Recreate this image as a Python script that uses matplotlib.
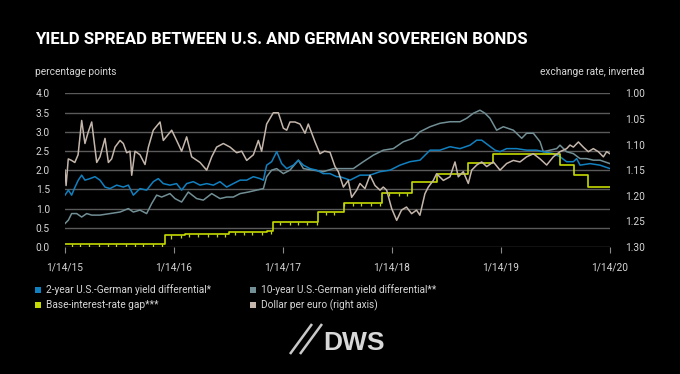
import numpy as np
import matplotlib
matplotlib.use("Agg")
import matplotlib.pyplot as plt
from matplotlib.patches import Rectangle
from matplotlib.lines import Line2D

# ---------------- DATA ----------------
# x values: years since 14 Jan 2015
x_ticks = [0, 1, 2, 3, 4, 5]
x_tick_labels = ["1/14/15", "1/14/16", "1/14/17", "1/14/18", "1/14/19", "1/14/20"]
left_ticks = [0.0, 0.5, 1.0, 1.5, 2.0, 2.5, 3.0, 3.5, 4.0]
right_ticks = [1.00, 1.05, 1.10, 1.15, 1.20, 1.25, 1.30]

two_year_x = [0.000, 0.031, 0.061, 0.092, 0.122, 0.153, 0.183, 0.229, 0.275, 0.321, 0.367, 0.413,
              0.474, 0.535, 0.581, 0.627, 0.688, 0.749, 0.810, 0.856, 0.902, 0.963, 1.024, 1.070,
              1.116, 1.177, 1.239, 1.300, 1.361, 1.422, 1.483, 1.544, 1.606, 1.667, 1.728, 1.789,
              1.820, 1.850, 1.896, 1.942, 1.988, 2.034, 2.095, 2.141, 2.187, 2.248, 2.309, 2.370,
              2.431, 2.492, 2.523, 2.615, 2.706, 2.798, 2.890, 2.982, 3.073, 3.165, 3.257, 3.349,
              3.440, 3.532, 3.624, 3.716, 3.777, 3.823, 3.884, 3.945, 3.991, 4.052, 4.144, 4.235,
              4.327, 4.388, 4.480, 4.541, 4.602, 4.664, 4.694, 4.725, 4.817, 4.908, 5.000]
two_year_y = [1.35, 1.48, 1.35, 1.56, 1.74, 1.87, 1.74, 1.78, 1.83, 1.74, 1.56, 1.52,
              1.61, 1.56, 1.61, 1.35, 1.52, 1.48, 1.70, 1.78, 1.65, 1.61, 1.65, 1.48,
              1.65, 1.70, 1.61, 1.65, 1.61, 1.70, 1.56, 1.65, 1.74, 1.74, 1.83, 1.78,
              1.74, 2.13, 2.22, 2.48, 2.17, 2.04, 2.13, 2.26, 2.13, 2.04, 2.00, 1.91,
              1.91, 1.83, 1.83, 1.74, 1.87, 1.87, 1.96, 2.00, 2.13, 2.22, 2.26, 2.52,
              2.52, 2.61, 2.56, 2.65, 2.78, 2.78, 2.65, 2.52, 2.48, 2.56, 2.56, 2.52,
              2.52, 2.48, 2.43, 2.35, 2.22, 2.22, 2.30, 2.13, 2.17, 2.13, 2.04]

ten_year_x = [0.000, 0.031, 0.061, 0.107, 0.153, 0.199, 0.245, 0.321, 0.413, 0.505, 0.581, 0.627,
              0.688, 0.749, 0.795, 0.841, 0.887, 0.963, 1.009, 1.070, 1.131, 1.208, 1.269, 1.346,
              1.422, 1.483, 1.544, 1.606, 1.682, 1.758, 1.820, 1.850, 1.896, 1.942, 2.003, 2.064,
              2.141, 2.187, 2.278, 2.370, 2.462, 2.523, 2.645, 2.737, 2.829, 2.920, 3.012, 3.104,
              3.196, 3.257, 3.349, 3.440, 3.532, 3.624, 3.685, 3.746, 3.807, 3.853, 3.899, 3.960,
              4.021, 4.113, 4.190, 4.235, 4.297, 4.358, 4.388, 4.450, 4.511, 4.541, 4.602, 4.664,
              4.725, 4.786, 4.847, 4.908, 5.000]
ten_year_y = [0.61, 0.70, 0.87, 0.87, 0.78, 0.87, 0.83, 0.83, 0.87, 0.91, 1.00, 0.91,
              0.96, 0.87, 1.13, 1.35, 1.30, 1.39, 1.26, 1.17, 1.43, 1.26, 1.22, 1.39,
              1.26, 1.30, 1.30, 1.39, 1.43, 1.48, 1.52, 1.83, 2.00, 2.04, 1.91, 2.00,
              2.26, 2.04, 2.00, 1.96, 2.04, 2.04, 2.04, 2.22, 2.39, 2.52, 2.56, 2.74,
              2.83, 3.00, 3.13, 3.22, 3.26, 3.26, 3.35, 3.48, 3.56, 3.48, 3.35, 3.04,
              3.13, 3.04, 2.83, 2.96, 2.96, 2.74, 2.48, 2.52, 2.56, 2.65, 2.48, 2.43,
              2.30, 2.30, 2.26, 2.26, 2.17]

gap_x = [0.000, 0.917, 1.000, 1.100, 1.500, 1.850, 1.910, 2.320, 2.560, 2.910, 3.180, 3.410,
         3.700, 3.930, 4.540, 4.670, 4.800, 5.000]
gap_y = [0.09, 0.30, 0.32, 0.34, 0.38, 0.41, 0.65, 0.91, 1.15, 1.41, 1.70, 1.91,
         2.19, 2.42, 2.13, 1.87, 1.55, 1.55]
gap_dips = [0.06, 0.14, 0.22, 0.31, 0.39, 0.47, 0.56, 0.64, 0.72, 0.81, 0.89, 0.97, 1.06,
            1.14, 1.22, 1.31, 1.39, 1.47, 1.56, 1.64, 1.72, 1.81, 1.89, 1.97, 2.06, 2.14,
            2.22, 2.31, 2.39, 2.47, 2.56, 2.64, 2.72, 2.81, 2.89, 2.97, 3.06, 3.14]

usd_x = [0.000, 0.010, 0.030, 0.060, 0.090, 0.120, 0.153, 0.183, 0.214, 0.245, 0.291, 0.321,
         0.367, 0.398, 0.428, 0.459, 0.505, 0.535, 0.566, 0.596, 0.612, 0.642, 0.688, 0.734,
         0.765, 0.810, 0.872, 0.902, 0.979, 1.024, 1.070, 1.116, 1.162, 1.239, 1.300, 1.346,
         1.391, 1.453, 1.514, 1.575, 1.621, 1.667, 1.728, 1.774, 1.804, 1.850, 1.911, 1.957,
         2.003, 2.034, 2.064, 2.110, 2.156, 2.202, 2.232, 2.294, 2.339, 2.380, 2.431, 2.477,
         2.508, 2.554, 2.599, 2.630, 2.676, 2.706, 2.752, 2.798, 2.844, 2.890, 2.920, 2.951,
         2.997, 3.043, 3.087, 3.133, 3.180, 3.225, 3.256, 3.302, 3.333, 3.379, 3.409, 3.471,
         3.532, 3.578, 3.608, 3.654, 3.700, 3.731, 3.777, 3.823, 3.869, 3.930, 3.991, 4.052,
         4.113, 4.174, 4.235, 4.297, 4.358, 4.419, 4.480, 4.541, 4.602, 4.633, 4.664, 4.710,
         4.755, 4.801, 4.847, 4.893, 4.939, 4.969, 5.000]
usd_y = [1.150, 1.180, 1.128, 1.131, 1.135, 1.120, 1.053, 1.098, 1.075, 1.056, 1.135, 1.124,
         1.088, 1.135, 1.128, 1.105, 1.092, 1.098, 1.116, 1.113, 1.160, 1.113, 1.120, 1.139,
         1.105, 1.072, 1.056, 1.092, 1.072, 1.092, 1.113, 1.085, 1.124, 1.135, 1.150, 1.124,
         1.105, 1.098, 1.105, 1.116, 1.113, 1.131, 1.120, 1.092, 1.113, 1.060, 1.038, 1.038,
         1.068, 1.072, 1.056, 1.056, 1.060, 1.078, 1.060, 1.095, 1.118, 1.113, 1.115, 1.143,
         1.153, 1.183, 1.170, 1.203, 1.189, 1.176, 1.186, 1.160, 1.180, 1.189, 1.183, 1.189,
         1.225, 1.248, 1.228, 1.222, 1.235, 1.228, 1.238, 1.196, 1.183, 1.170, 1.157, 1.170,
         1.163, 1.134, 1.163, 1.153, 1.176, 1.150, 1.140, 1.134, 1.143, 1.134, 1.150, 1.137,
         1.131, 1.134, 1.124, 1.118, 1.128, 1.140, 1.124, 1.114, 1.108, 1.101, 1.105, 1.095,
         1.105, 1.114, 1.108, 1.114, 1.124, 1.114, 1.118]

legend_labels = ["2-year U.S.-German yield differential*", "10-year U.S.-German yield differential**",
                 "Base-interest-rate gap***", "Dollar per euro (right axis)"]

# ---------------- STYLE ----------------
BLUE = "#1180c0"
GRAY = "#718f95"
LIME = "#c5da00"
BEIGE = "#c4b6ab"
GRID = "#5a5a5a"
TXT = "#d6d6d6"
FONT = ["Roboto", "DejaVu Sans"]
plt.rcParams["font.family"] = FONT

W, H = 680, 374
fig = plt.figure(figsize=(W / 100, H / 100), dpi=100, facecolor="black")

def fx(px):
    return px / W

def fy(py):
    return 1 - py / H

ax = fig.add_axes([fx(65), fy(247), fx(610) - fx(65), fy(93.3) - fy(247)])
ax.set_facecolor("black")
ax.set_xlim(0, 5)
ax.set_ylim(0, 4)
for s in ax.spines.values():
    s.set_visible(False)
ax.set_yticks(left_ticks)
ax.set_yticklabels([f"{v:.1f}" for v in left_ticks])
ax.yaxis.grid(True, color=GRID, lw=1.0)
ax.set_axisbelow(True)
ax.set_xticks(x_ticks)
ax.set_xticklabels(x_tick_labels)
ax.tick_params(axis="y", length=0, pad=11, labelsize=7.3, labelcolor=TXT)
ax.tick_params(axis="x", length=4.5, width=0.8, color="#8a8a8a", pad=7, labelsize=7.3, labelcolor=TXT)

ax.plot(ten_year_x, ten_year_y, color=GRAY, lw=1.1, zorder=3)
ax.plot(two_year_x, two_year_y, color=BLUE, lw=1.1, zorder=4)
ax.plot(gap_x, gap_y, color=LIME, lw=1.2, drawstyle="steps-post", zorder=5)
gx = np.array(gap_x)
dip_levels = [gap_y[np.searchsorted(gx, d, side="right") - 1] for d in gap_dips]
ax.vlines(gap_dips, np.array(dip_levels) - 0.08, dip_levels, color=LIME, lw=0.9, zorder=5)

ax2 = ax.twinx()
ax2.set_ylim(1.30, 1.00)
for s in ax2.spines.values():
    s.set_visible(False)
ax2.set_yticks(right_ticks)
ax2.set_yticklabels([f"{v:.2f}" for v in right_ticks])
ax2.tick_params(axis="y", length=0, pad=11, labelsize=7.3, labelcolor=TXT)
ax2.plot(usd_x, usd_y, color=BEIGE, lw=1.1, zorder=3)

# ---------------- TEXT ----------------
fig.text(fx(35), fy(40), "YIELD SPREAD BETWEEN U.S. AND GERMAN SOVEREIGN BONDS",
         color="white", fontsize=12.1, fontweight="bold", va="center", ha="left")
fig.text(fx(35), fy(72), "percentage points", color=TXT, fontsize=7.3, va="center", ha="left")
fig.text(fx(644), fy(72), "exchange rate, inverted", color=TXT, fontsize=7.3, va="center", ha="right")

colors = [BLUE, GRAY, LIME, BEIGE]
pos = [(35, 290), (250, 290), (35, 305), (250, 305)]
for (px, py), c, lab in zip(pos, colors, legend_labels):
    fig.add_artist(Rectangle((fx(px), fy(py + 3)), fx(6), 6 / H, transform=fig.transFigure,
                             facecolor=c, edgecolor="none"))
    fig.text(fx(px + 11), fy(py), lab, color=TXT, fontsize=7.3, va="center", ha="left")

# DWS logo
for x0 in (290, 300):
    fig.add_artist(Line2D([fx(x0), fx(x0 + 22)], [fy(354), fy(324)], transform=fig.transFigure,
                          color="#c8c8c8", lw=1.8, solid_capstyle="butt"))
fig.text(fx(323), fy(343.5), "DWS", color="#d8d8d8", fontsize=19, fontweight="bold",
         family=["Liberation Sans", "DejaVu Sans"], va="center", ha="left")

fig.savefig("out.png", dpi=100, facecolor="black")
